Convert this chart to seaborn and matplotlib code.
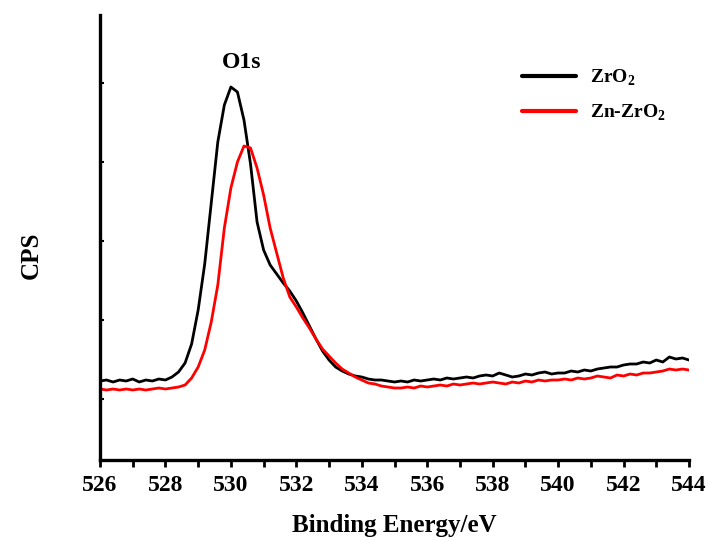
import numpy as np
import pandas as pd
import matplotlib
matplotlib.use("Agg")
import matplotlib.pyplot as plt
from matplotlib.ticker import MultipleLocator
import seaborn as sns

energy = [round(526.0 + 0.2 * i, 1) for i in range(91)]

zro2 = [79, 80, 78, 80, 79, 81, 78, 80, 79, 81,
        80, 83, 88, 97, 116, 150, 196, 257, 318, 355,
        373, 368, 340, 296, 238, 210, 195, 186, 177, 169,
        159, 147, 134, 121, 109, 100, 93, 89, 86, 84,
        83, 81, 80, 80, 79, 78, 79, 78, 80, 79,
        80, 81, 80, 82, 81, 82, 83, 82, 84, 85,
        84, 87, 85, 83, 84, 86, 85, 87, 88, 86,
        87, 87, 89, 88, 90, 89, 91, 92, 93, 93,
        95, 96, 96, 98, 97, 100, 98, 103, 101, 102,
        100]

zn_zro2 = [71, 70, 71, 70, 71, 70, 71, 70, 71, 72,
           71, 72, 73, 75, 82, 93, 110, 138, 175, 232,
           272, 298, 314, 312, 292, 265, 232, 207, 182, 163,
           153, 142, 132, 121, 111, 104, 97, 91, 87, 83,
           80, 77, 76, 74, 73, 72, 72, 73, 72, 74,
           73, 74, 75, 74, 76, 75, 76, 77, 76, 77,
           78, 77, 76, 78, 77, 79, 78, 80, 79, 80,
           80, 81, 80, 82, 81, 82, 84, 83, 82, 85,
           84, 86, 85, 87, 87, 88, 89, 91, 90, 91,
           90]

labels = [r'ZrO$_\mathbf{2}$', r'Zn-ZrO$_\mathbf{2}$']
colors = ['black', 'red']
x_ticks = [526, 528, 530, 532, 534, 536, 538, 540, 542, 544]

df = pd.DataFrame({
    'energy': energy * 2,
    'cps': zro2 + zn_zro2,
    'sample': [labels[0]] * len(energy) + [labels[1]] * len(energy),
})

sns.set_theme(style='ticks')
plt.rcParams['font.family'] = ['Liberation Serif', 'DejaVu Serif']
plt.rcParams['font.weight'] = 'bold'
plt.rcParams['text.color'] = 'black'
plt.rcParams['axes.labelcolor'] = 'black'
plt.rcParams['xtick.color'] = 'black'
plt.rcParams['ytick.color'] = 'black'
plt.rcParams['mathtext.fontset'] = 'custom'
plt.rcParams['mathtext.rm'] = 'Liberation Serif'
plt.rcParams['mathtext.bf'] = 'Liberation Serif:bold'

fig = plt.figure(figsize=(7.1, 5.41), dpi=100)
ax = fig.add_axes([100 / 710, 81 / 541, 589 / 710, 445 / 541])

sns.lineplot(data=df, x='energy', y='cps', hue='sample',
             palette=dict(zip(labels, colors)), linewidth=2.0, ax=ax,
             legend=True)

ax.set_xlim(526, 544)
ax.set_ylim(0, 445)
ax.set_xticks(x_ticks)
ax.set_xticklabels([str(t) for t in x_ticks])
ax.xaxis.set_minor_locator(MultipleLocator(1))
ax.set_yticks([61, 140, 219, 298, 377])
ax.set_yticklabels([])

for s in ['top', 'right']:
    ax.spines[s].set_visible(False)
for s in ['left', 'bottom']:
    ax.spines[s].set_linewidth(2.4)
    ax.spines[s].set_color('black')

ax.tick_params(axis='x', which='major', direction='out', length=5, width=2,
               labelsize=17, pad=6, colors='black')
ax.tick_params(axis='x', which='minor', direction='out', length=5, width=2)
ax.tick_params(axis='y', which='major', direction='in', length=3, width=1.5)
for lbl in ax.get_xticklabels():
    lbl.set_fontweight('bold')

ax.set_xlabel('Binding Energy/eV', fontsize=18, fontweight='bold',
              labelpad=13, color='black')
ax.set_ylabel('CPS', fontsize=18, fontweight='bold', color='black')
ax.yaxis.set_label_coords(-57 / 589, 0.46)

ax.text(530.34, 398, 'O1s', fontsize=17, fontweight='bold',
        ha='center', va='center', color='black')

leg = ax.legend(loc='upper right', bbox_to_anchor=(0.99, 0.92), frameon=False,
                fontsize=14, handlelength=2.8, handletextpad=0.7,
                labelspacing=0.75, title=None)
for line in leg.get_lines():
    line.set_linewidth(3)
for t in leg.get_texts():
    t.set_fontweight('bold')
    t.set_color('black')

fig.savefig('out.png', dpi=100)
